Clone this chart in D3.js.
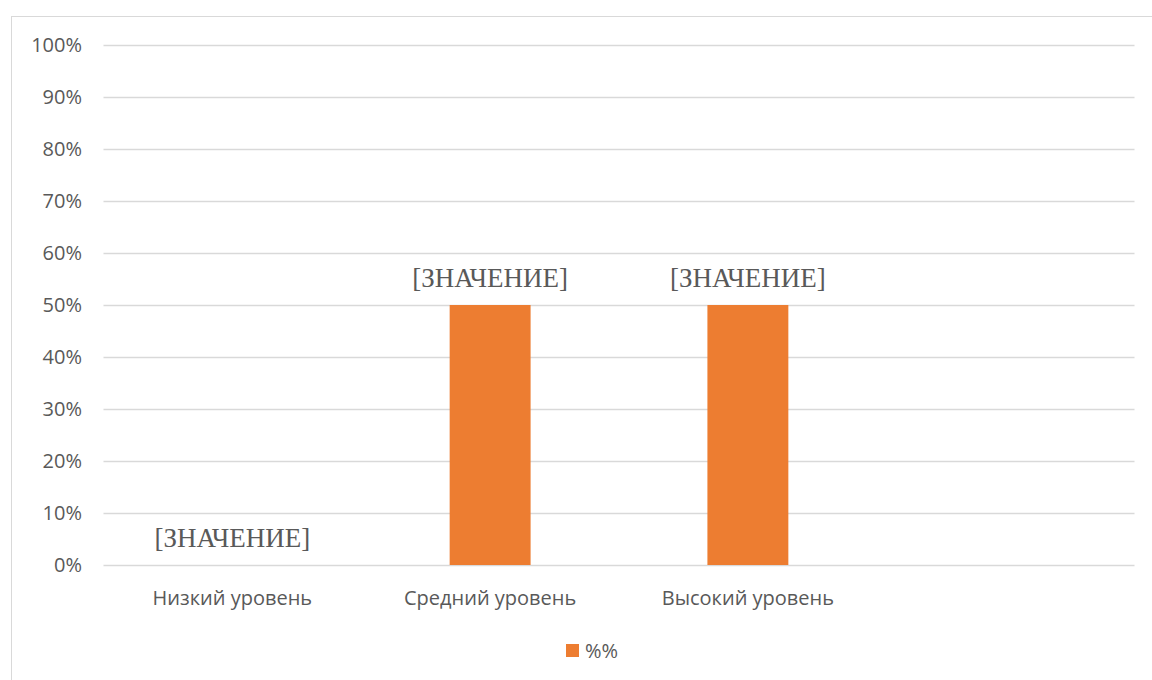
<!DOCTYPE html>
<html><head><meta charset="utf-8">
<script src="https://cdn.jsdelivr.net/npm/d3@7"></script>
<style>body{margin:0;background:#fff}</style>
</head><body>
<svg id="c" width="1152" height="680"></svg>
<script>
const categories = ["Низкий уровень", "Средний уровень", "Высокий уровень", ""];
const values = [0, 50, 50, null];
const labels = ["[ЗНАЧЕНИЕ]", "[ЗНАЧЕНИЕ]", "[ЗНАЧЕНИЕ]", null];
const ticks = [0,10,20,30,40,50,60,70,80,90,100];
const seriesName = "%%";

const sans = "'Open Sans', sans-serif";
const svg = d3.select("#c");
svg.append("rect").attr("x",11.5).attr("y",16.5).attr("width",1160).attr("height",700)
  .attr("fill","#fff").attr("stroke","#d9d9d9").attr("stroke-width",1);

const x = d3.scaleBand().domain(categories.map((d,i)=>i)).range([103.5,1134.5]).padding(0);
const y = d3.scaleLinear().domain([0,100]).range([565,45]);
const barW = x.bandwidth()*0.314;

const grid = svg.append("g");
grid.selectAll("line").data(ticks).join("line")
  .attr("x1",103.5).attr("x2",1134.5)
  .attr("y1",d=>Math.round(y(d))+0.5).attr("y2",d=>Math.round(y(d))+0.5)
  .attr("stroke","#d9d9d9").attr("stroke-width",1.5);

svg.append("g").selectAll("text").data(ticks).join("text")
  .attr("x",82).attr("y",d=>y(d)).attr("dy","0.35em").attr("text-anchor","end")
  .attr("font-family",sans).attr("font-size",20).attr("fill","#595959")
  .text(d=>d+"%");

const data = categories.map((c,i)=>({i,c,v:values[i],l:labels[i]}));
svg.append("g").selectAll("rect").data(data.filter(d=>d.v!=null && d.v>0)).join("rect")
  .attr("x",d=>x(d.i)+x.bandwidth()/2-barW/2).attr("width",barW)
  .attr("y",d=>y(d.v)).attr("height",d=>y(0)-y(d.v)).attr("fill","#ed7d31");

svg.append("g").selectAll("text").data(data.filter(d=>d.l)).join("text")
  .attr("x",d=>x(d.i)+x.bandwidth()/2).attr("y",d=>y(d.v)-18)
  .attr("text-anchor","middle")
  .attr("font-family","'Liberation Serif', 'Times New Roman', serif").attr("font-size",27).attr("fill","#595959")
  .text(d=>d.l);

svg.append("g").selectAll("text").data(data).join("text")
  .attr("x",d=>x(d.i)+x.bandwidth()/2).attr("y",598).attr("dy","0.35em")
  .attr("text-anchor","middle")
  .attr("font-family",sans).attr("font-size",20).attr("fill","#595959")
  .text(d=>d.c);

const lg = svg.append("g");
lg.append("rect").attr("x",566).attr("y",644).attr("width",13).attr("height",13).attr("fill","#ed7d31");
lg.append("text").attr("x",585).attr("y",650.5).attr("dy","0.35em")
  .attr("font-family",sans).attr("font-size",20).attr("fill","#595959")
  .text(seriesName);
</script>
</body></html>
